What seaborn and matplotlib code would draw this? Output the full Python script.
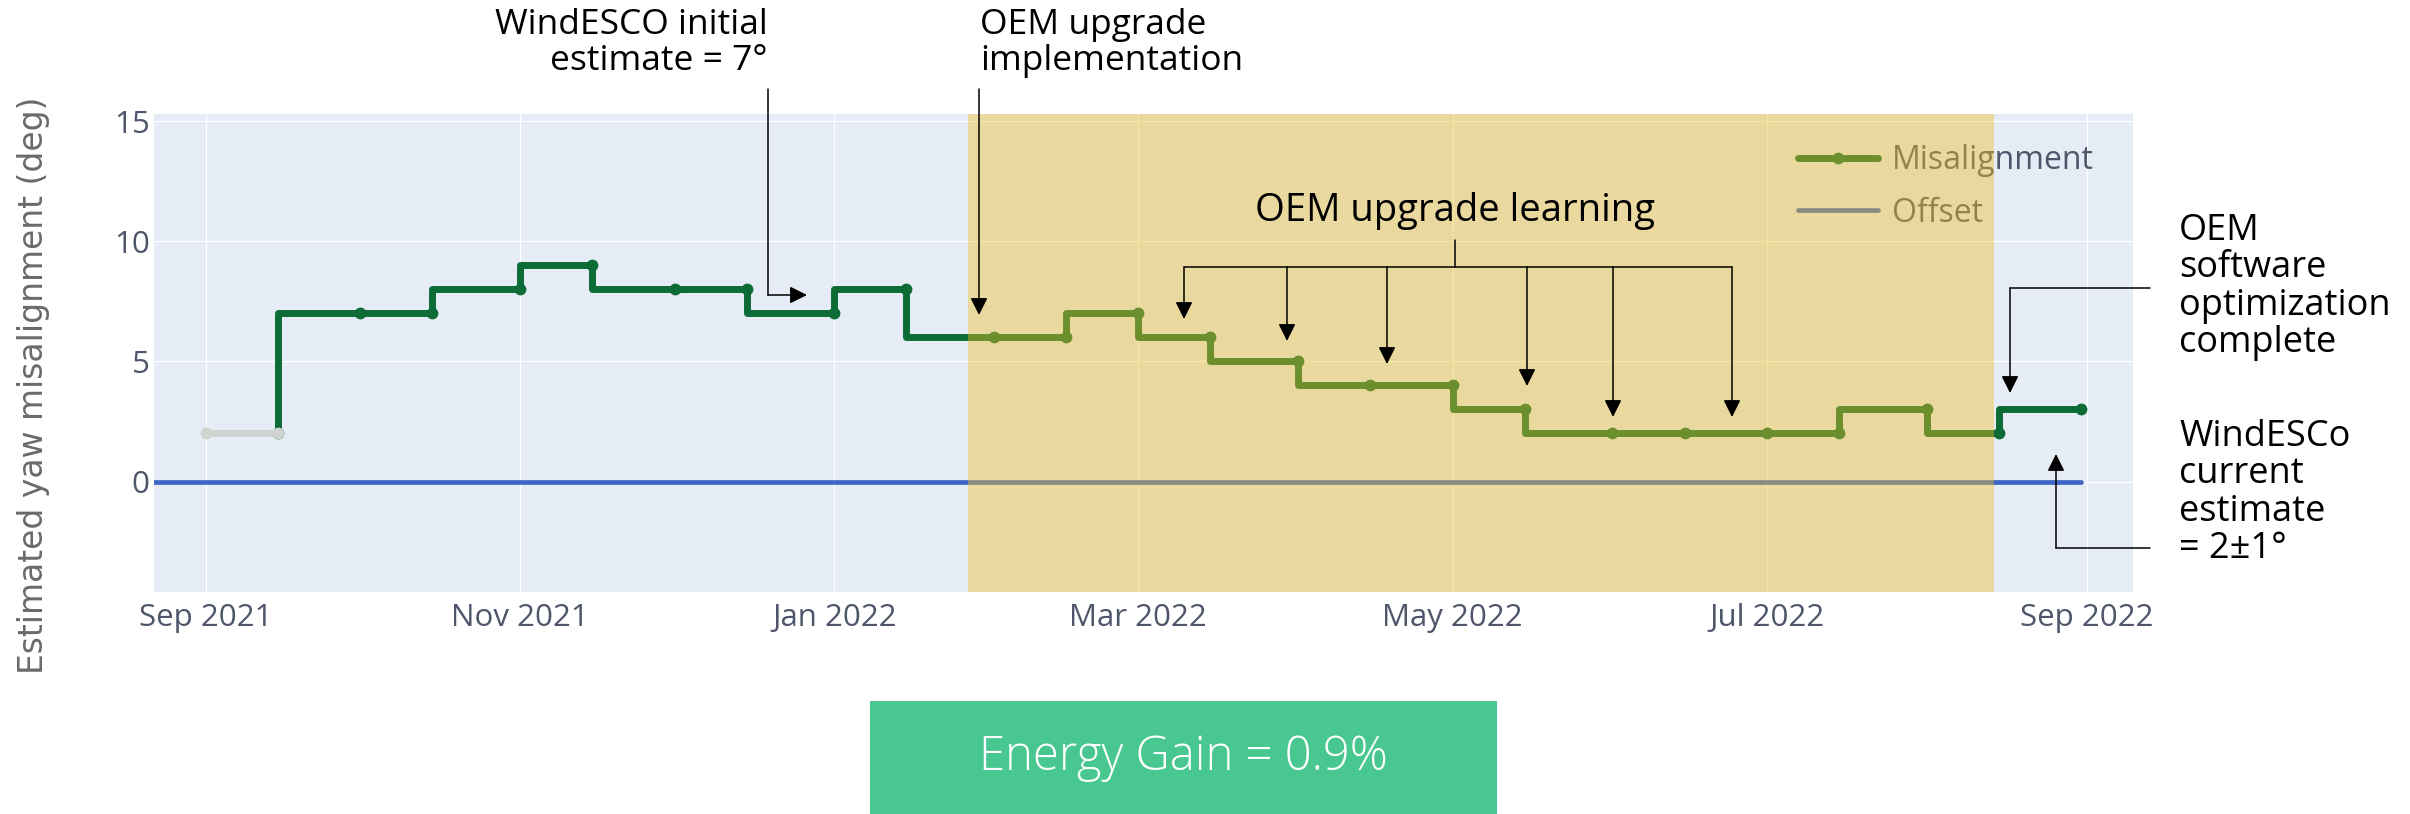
import matplotlib
matplotlib.use('Agg')
import matplotlib.pyplot as plt
import matplotlib.dates as mdates
from matplotlib.lines import Line2D
from matplotlib.patches import Rectangle, FancyArrowPatch
import seaborn as sns
import pandas as pd

W, H = 2410, 814

# values
pre_dates = ['2021-09-01', '2021-09-15']
pre_values = [2, 2]

est_dates = ['2021-09-15', '2021-10-01', '2021-10-15', '2021-11-01', '2021-11-15',
             '2021-12-01', '2021-12-15', '2022-01-01', '2022-01-15', '2022-02-01',
             '2022-02-15', '2022-03-01', '2022-03-15', '2022-04-01', '2022-04-15',
             '2022-05-01', '2022-05-15', '2022-06-01', '2022-06-15', '2022-07-01',
             '2022-07-15', '2022-08-01', '2022-08-15', '2022-08-31']
est_values = [2, 7, 7, 8, 9, 8, 8, 7, 8, 6, 6, 7, 6, 5, 4, 4, 3, 2, 2, 2, 2, 3, 2, 3]

offset_dates = ['2021-08-20', '2022-08-31']
offset_values = [0, 0]

upgrade_start, upgrade_end = '2022-01-27', '2022-08-14'
x_range = ['2021-08-22', '2022-09-10']
y_ticks = [0, 5, 10, 15]

GREEN = '#0d6b35'
BLUE = '#3d67c2'
TICK = '#4f566b'

est = pd.DataFrame({'date': pd.to_datetime(est_dates), 'value': est_values})
pre = pd.DataFrame({'date': pd.to_datetime(pre_dates), 'value': pre_values})
off = pd.DataFrame({'date': pd.to_datetime(offset_dates), 'value': offset_values})

sns.set_style('darkgrid', rc={'axes.facecolor': '#e5ecf6', 'grid.color': 'white',
                              'grid.linewidth': 2.0, 'axes.edgecolor': 'white'})
plt.rcParams['font.family'] = ['Open Sans', 'DejaVu Sans']


def fxy(px, py):
    # pixel position (from top-left) -> figure fraction
    return px / W, 1 - py / H


fig = plt.figure(figsize=(W / 100, H / 100), dpi=100)
ax = fig.add_axes([154 / W, 1 - 592 / H, (2133 - 154) / W, (592 - 114) / H])

sns.lineplot(data=off, x='date', y='value', ax=ax, color=BLUE, linewidth=3.4, zorder=2)
sns.lineplot(data=est, x='date', y='value', ax=ax, color=GREEN, linewidth=5,
             drawstyle='steps-pre', marker='o', markersize=8.5, markeredgewidth=0, zorder=3)
sns.lineplot(data=pre, x='date', y='value', ax=ax, color='#d0d4d0', linewidth=5,
             marker='o', markersize=8.5, markeredgewidth=0, zorder=3.2)

ax.set_xlim(pd.to_datetime(x_range[0]), pd.to_datetime(x_range[1]))
ax.set_ylim(-4.6, 15.3)
ax.set_yticks(y_ticks)
ax.xaxis.set_major_locator(mdates.MonthLocator(bymonth=[1, 3, 5, 7, 9, 11]))
ax.xaxis.set_major_formatter(mdates.DateFormatter('%b %Y'))
ax.tick_params(length=0, labelsize=22.5, labelcolor=TICK)
ax.tick_params(axis='y', pad=3)
ax.tick_params(axis='x', pad=8)
ax.set_xlabel('')
ax.set_ylabel('')
for s in ax.spines.values():
    s.set_visible(False)

handles = [Line2D([], [], color=GREEN, lw=5, marker='o', markersize=8.5, markeredgewidth=0),
           Line2D([], [], color=BLUE, lw=3.4)]
leg = ax.legend(handles, ['Misalignment', 'Offset'], loc='upper left',
                bbox_to_anchor=fxy(1785, 131), bbox_transform=fig.transFigure,
                frameon=False, fontsize=23, labelcolor=TICK, handlelength=2.5,
                handletextpad=0.45, labelspacing=0.62, borderaxespad=0)
leg.set_zorder(3.5)

# the upgrade window sits on top of the lines, tinting them
ax.axvspan(pd.to_datetime(upgrade_start), pd.to_datetime(upgrade_end),
           color='#f2c125', alpha=0.42, lw=0, zorder=4)

fig.text(*fxy(34, 385), 'Estimated yaw misalignment (deg)', rotation=90,
         ha='center', va='center', fontsize=23.7, color='#6a6a6a', family='DejaVu Sans')


def arrow(points):
    pts = [fxy(*p) for p in points]
    if len(pts) > 2:
        xs, ys = zip(*pts[:-1])
        fig.add_artist(Line2D(xs, ys, color='black', lw=1.1, transform=fig.transFigure))
    fig.add_artist(FancyArrowPatch(pts[-2], pts[-1], transform=fig.transFigure,
                                   arrowstyle='-|>', mutation_scale=26, lw=1.1,
                                   color='black', shrinkA=0, shrinkB=0))


ann = dict(fontsize=25.5, color='black', va='center', linespacing=1.08)
fig.text(*fxy(768, 43), 'WindESCO initial\nestimate = 7°', ha='right', **ann)
arrow([(768, 89), (768, 295), (807, 295)])

fig.text(*fxy(980, 43), 'OEM upgrade\nimplementation', ha='left', **ann)
arrow([(979, 89), (979, 315)])

fig.text(*fxy(1455, 211), 'OEM upgrade learning', ha='center', fontsize=27.5,
         color='black', va='center')
fig.add_artist(Line2D(*zip(fxy(1455, 240), fxy(1455, 267)), color='black', lw=1.1))
fig.add_artist(Line2D(*zip(fxy(1184, 267), fxy(1732, 267)), color='black', lw=1.1))
for px, tip in [(1184, 319), (1287, 341), (1387, 364), (1527, 386), (1613, 417), (1732, 417)]:
    arrow([(px, 267), (px, tip)])

ann_r = dict(fontsize=26, color='black', va='center', linespacing=1.06)
fig.text(*fxy(2179, 287), 'OEM\nsoftware\noptimization\ncomplete', ha='left', **ann_r)
arrow([(2150, 288), (2010, 288), (2010, 393)])

fig.text(*fxy(2179, 493), 'WindESCo\ncurrent\nestimate\n= 2±1°', ha='left', **ann_r)
arrow([(2150, 548), (2056, 548), (2056, 454)])

x0, y0 = fxy(870, 814)
x1, y1 = fxy(1497, 701)
fig.add_artist(Rectangle((x0, y0), x1 - x0, y1 - y0, transform=fig.transFigure,
                         color='#48c890', lw=0))
fig.text(*fxy(1183, 758), 'Energy Gain = 0.9%', ha='center', va='center',
         fontsize=34, color='white', fontweight='light')

fig.savefig('out.png', dpi=100)
